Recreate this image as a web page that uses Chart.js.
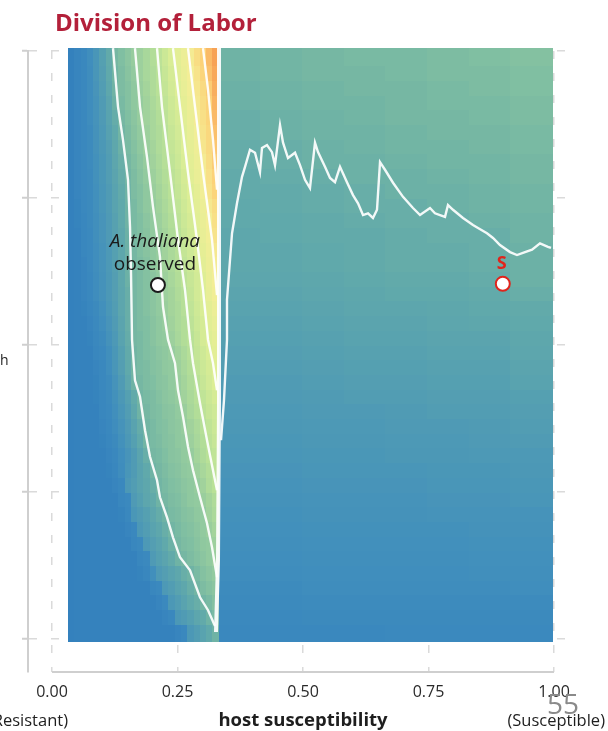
<!DOCTYPE html>
<html>
<head>
<meta charset="utf-8">
<title>Division of Labor</title>
<script src="https://cdn.jsdelivr.net/npm/chart.js@4.4.1/dist/chart.umd.min.js"></script>
<style>
  html, body { margin: 0; padding: 0; background: #fff; }
  #wrap { width: 608px; height: 731px; }
</style>
</head>
<body>
<div id="wrap"><canvas id="labor_Chart" width="608" height="731"></canvas></div>
<script>
// axis ticks (host susceptibility on x, unlabeled parameter on y)
const tick_values = [0, 0.25, 0.5, 0.75, 1];

// left band of the surface: cell edges and values (0-100 on the colour scale)
const band_x = [0.033, 0.0455, 0.058, 0.0705, 0.083, 0.0955, 0.108, 0.1205, 0.133, 0.1455, 0.158, 0.1705, 0.183,
                0.1955, 0.208, 0.2205, 0.233, 0.2455, 0.258, 0.2705, 0.283, 0.2955, 0.308, 0.3205, 0.333];
const band_y = [-0.005, 0.025, 0.05, 0.075, 0.1, 0.125, 0.15, 0.175, 0.2, 0.225, 0.25, 0.275, 0.3, 0.325, 0.35,
                0.375, 0.4, 0.425, 0.45, 0.475, 0.5, 0.525, 0.55, 0.575, 0.6, 0.625, 0.65, 0.675, 0.7, 0.725,
                0.75, 0.775, 0.8, 0.825, 0.85, 0.875, 0.9, 0.925, 0.95, 0.975, 1.005];
const band_rows = [
  [3,4,4,4,4,4,4,4,4,4,4,4,4,4,4,4,4,6,8,22,26,30,34,39],
  [3,4,4,4,4,4,4,4,4,4,4,4,4,4,4,6,8,22,25,28,32,35,39,42],
  [3,4,4,4,4,4,4,4,4,4,4,4,4,4,6,9,22,26,30,34,37,40,42,45],
  [3,4,4,4,4,4,4,4,4,4,4,4,4,7,9,23,26,30,33,37,40,43,45,47],
  [3,4,4,4,4,4,4,4,4,4,4,5,7,14,24,27,30,33,37,39,42,45,47,49],
  [3,4,4,4,4,4,4,4,4,4,4,7,9,24,28,31,35,39,41,43,45,47,49,51],
  [3,4,4,4,4,4,4,4,4,4,7,9,23,27,30,34,38,41,43,44,46,48,49,52],
  [3,4,4,4,4,4,4,4,4,6,8,22,26,30,33,37,40,42,44,45,47,49,51,54],
  [3,4,4,4,4,4,4,4,5,8,21,25,28,32,36,39,42,43,45,46,48,49,53,56],
  [3,4,4,4,4,4,4,4,7,9,24,28,32,35,39,41,43,44,46,48,49,51,54,57],
  [3,4,4,4,4,4,4,6,8,22,26,30,33,37,40,42,44,45,47,48,50,53,57,60],
  [3,4,4,4,4,4,5,7,12,20,25,30,34,39,41,43,45,46,48,49,52,55,58,61],
  [3,4,4,4,4,4,6,8,13,19,25,31,37,41,42,44,46,47,49,50,54,57,60,62],
  [3,4,4,4,4,5,7,10,16,22,28,34,40,42,43,45,46,48,49,52,55,58,61,64],
  [3,4,4,4,4,6,8,12,18,24,30,36,40,42,44,45,47,48,50,53,56,59,62,65],
  [3,4,4,4,4,7,9,14,20,26,33,39,41,43,44,46,47,49,51,55,58,61,64,66],
  [3,4,4,4,5,7,10,16,22,28,35,40,42,43,45,47,48,50,53,56,59,62,65,68],
  [3,4,4,4,5,8,11,18,25,32,39,41,43,44,46,47,49,51,54,57,60,64,67,70],
  [3,4,4,4,6,8,13,20,27,34,40,42,43,45,46,48,49,52,55,58,62,65,68,71],
  [3,4,4,4,7,9,14,21,28,35,40,42,44,45,47,48,50,53,56,59,63,66,69,73],
  [3,4,4,5,8,11,17,23,30,36,41,42,44,46,48,49,52,55,58,60,64,68,71,74],
  [3,4,4,6,9,13,19,25,31,37,41,43,44,46,48,50,53,56,58,61,65,68,72,75],
  [3,4,5,7,10,15,21,26,32,37,41,43,45,47,49,51,54,56,59,62,66,69,73,77],
  [3,4,6,8,12,17,22,27,32,37,41,43,45,47,49,52,54,57,59,63,67,70,75,79],
  [3,4,6,8,12,17,22,27,33,38,41,43,45,47,49,52,55,58,61,64,67,71,76,80],
  [3,4,6,9,13,18,23,28,33,38,41,43,45,48,50,53,56,59,62,65,68,73,77,81],
  [3,4,7,9,13,18,23,28,33,38,41,44,46,48,50,53,56,59,63,66,69,74,78,82],
  [3,4,7,9,14,19,24,29,33,38,42,44,46,49,51,54,57,60,64,67,71,75,79,84],
  [3,5,7,10,14,19,24,29,34,39,42,44,47,49,52,55,58,61,65,68,72,76,80,85],
  [3,5,8,10,15,20,25,30,34,39,42,45,48,50,53,56,59,62,66,69,73,77,82,86],
  [3,6,8,10,15,20,25,30,35,39,43,45,48,51,54,57,60,63,67,70,74,79,84,89],
  [3,6,8,10,16,21,26,31,36,40,43,46,49,52,55,58,61,64,68,72,76,80,85,90],
  [3,6,8,11,16,21,26,32,37,41,44,47,50,53,56,59,62,65,69,73,77,81,86,91],
  [3,6,8,11,17,22,27,33,38,42,45,48,51,54,57,59,63,66,70,74,78,83,87,92],
  [3,6,8,11,17,23,29,34,40,43,46,49,52,55,57,60,64,67,71,75,79,84,88,93],
  [3,6,8,12,18,24,30,36,41,44,47,50,53,55,58,61,65,68,72,76,81,85,89,94],
  [3,6,8,12,18,25,31,38,42,45,48,50,53,56,59,62,66,69,74,78,82,86,90,95],
  [3,6,8,12,19,26,33,39,43,45,48,51,54,57,60,63,67,71,75,79,83,87,91,96],
  [3,6,8,12,20,27,34,40,43,46,49,52,55,57,60,64,68,72,76,80,84,89,93,97],
  [3,6,8,13,20,28,35,41,44,47,50,52,55,58,61,65,69,73,77,81,86,90,94,98]
];

// right-hand flank of the surface (susceptibility above 1/3), same rows as the band
const flank_x = [0.333, 0.416, 0.499, 0.582, 0.665, 0.748, 0.831, 0.914, 0.997];
const flank_y = band_y;
const flank_rows = [
  [8,8,8,8,9,9,9,9],
  [9,9,10,10,10,10,10,10],
  [10,10,11,11,11,11,11,11],
  [11,11,12,12,12,12,12,13],
  [12,12,13,13,13,13,14,14],
  [13,13,14,14,14,14,15,15],
  [14,14,15,15,15,15,16,16],
  [15,15,16,16,16,16,17,17],
  [16,16,17,17,17,18,18,18],
  [17,17,18,18,18,19,19,20],
  [18,18,19,19,19,20,20,21],
  [19,19,20,20,20,21,21,22],
  [20,20,21,21,22,22,23,23],
  [21,21,22,22,23,23,24,25],
  [22,22,23,23,24,24,25,26],
  [23,23,24,24,25,26,26,27],
  [24,24,25,26,26,27,27,28],
  [25,25,26,27,27,28,28,30],
  [26,26,27,28,28,29,29,31],
  [27,27,28,29,29,30,30,32],
  [28,28,29,30,30,31,31,33],
  [29,29,30,31,31,32,33,34],
  [30,30,31,32,32,33,34,35],
  [31,31,32,33,34,34,35,37],
  [32,32,33,34,35,35,36,38],
  [33,33,34,35,36,36,37,38],
  [33,33,34,35,36,36,37,38],
  [33,34,35,35,36,37,37,39],
  [34,34,35,36,37,37,38,39],
  [34,35,36,37,37,38,39,40],
  [35,35,36,37,38,38,39,40],
  [35,36,37,38,38,39,40,41],
  [36,37,38,38,39,40,40,41],
  [36,37,38,39,40,40,41,42],
  [37,38,39,39,40,41,41,42],
  [37,38,39,40,41,41,42,43],
  [38,39,40,40,41,42,42,43],
  [38,39,40,41,41,42,43,44],
  [39,40,41,41,42,43,43,44],
  [39,40,41,42,42,43,44,45]
];

// contour lines of the band, outermost first
const contour_a = [[0.1215,1.005],[0.1315,0.905],[0.1414,0.849],[0.1514,0.781],[0.1554,0.701],[0.1574,0.622],
  [0.1594,0.509],[0.1653,0.440],[0.1753,0.412],[0.1853,0.355],[0.1952,0.310],[0.2092,0.270],[0.2151,0.241],
  [0.2291,0.207],[0.2410,0.173],[0.2550,0.139],[0.2749,0.117],[0.2948,0.071],[0.3108,0.049],[0.3247,0.022]];
const contour_b = [[0.1653,1.005],[0.1753,0.905],[0.1892,0.820],[0.2012,0.735],[0.2151,0.650],[0.2211,0.565],
  [0.2311,0.509],[0.2450,0.469],[0.2510,0.423],[0.2610,0.378],[0.2709,0.327],[0.2809,0.287],[0.2948,0.241],
  [0.3088,0.197],[0.3187,0.156],[0.3287,0.105]];
const contour_c = [[0.2092,1.005],[0.2191,0.905],[0.2351,0.793],[0.2510,0.679],[0.2649,0.594],[0.2749,0.509],
  [0.2809,0.469],[0.2948,0.401],[0.3088,0.338],[0.3207,0.287],[0.3287,0.253]];
const contour_d = [[0.2410,1.005],[0.2550,0.905],[0.2709,0.793],[0.2888,0.679],[0.3008,0.594],[0.3108,0.509],
  [0.3207,0.469],[0.3287,0.423]];
const contour_e = [[0.2709,1.005],[0.2849,0.905],[0.3008,0.793],[0.3187,0.679],[0.3287,0.585]];
const contour_f = [[0.3008,1.005],[0.3108,0.934],[0.3207,0.849],[0.3287,0.764]];
const edge_line = [[0.3327,1.005],[0.3327,0.406],[0.3307,0.134],[0.3267,0.012]];
// contour on the flank
const flank_contour = [[0.3367,0.338],[0.3426,0.406],[0.3486,0.509],[0.3486,0.577],[0.3586,0.690],[0.3685,0.741],
  [0.3785,0.786],[0.3845,0.803],[0.3944,0.832],[0.4044,0.827],[0.4143,0.794],[0.4183,0.835],[0.4283,0.840],
  [0.4382,0.828],[0.4442,0.806],[0.4542,0.874],[0.4602,0.844],[0.4701,0.818],[0.4841,0.827],[0.4940,0.806],
  [0.5040,0.781],[0.5139,0.767],[0.5239,0.844],[0.5299,0.828],[0.5438,0.803],[0.5538,0.784],[0.5637,0.777],
  [0.5737,0.803],[0.5876,0.777],[0.5996,0.755],[0.6096,0.741],[0.6195,0.721],[0.6295,0.724],[0.6394,0.716],
  [0.6474,0.730],[0.6534,0.811],[0.6633,0.798],[0.6793,0.776],[0.6992,0.752],[0.7191,0.733],[0.7331,0.721],
  [0.7530,0.733],[0.7629,0.724],[0.7729,0.721],[0.7829,0.718],[0.7888,0.738],[0.7988,0.730],[0.8187,0.716],
  [0.8386,0.704],[0.8486,0.699],[0.8665,0.690],[0.8785,0.682],[0.8924,0.670],[0.9124,0.658],[0.9263,0.653],
  [0.9422,0.658],[0.9562,0.662],[0.9721,0.673],[0.9880,0.667],[0.9940,0.665]];

// marked hosts
const observed_point = [0.211, 0.602];
const s_point = [0.898, 0.604];

const heat_stops = [
  [0, [48,124,188]], [8, [58,136,190]], [15, [66,144,188]], [25, [80,155,180]],
  [35, [98,170,170]], [40, [114,181,164]], [45, [132,193,161]], [50, [150,204,158]],
  [60, [185,225,151]], [70, [220,238,149]], [80, [243,238,150]], [90, [252,210,120]],
  [100, [246,150,76]]
];

function heat_color(v) {
  for (let i = 1; i < heat_stops.length; i++) {
    const [v1, c1] = heat_stops[i];
    if (v <= v1) {
      const [v0, c0] = heat_stops[i - 1];
      const t = (v - v0) / (v1 - v0);
      const c = c0.map((ch, n) => Math.round(ch + (c1[n] - ch) * t));
      return `rgb(${c[0]},${c[1]},${c[2]})`;
    }
  }
  return 'rgb(246,150,76)';
}

function paint_cells(ctx, xs, ys, rows, x, y) {
  rows.forEach((row, j) => {
    const top = Math.floor(y.getPixelForValue(ys[j + 1]));
    const bottom = Math.ceil(y.getPixelForValue(ys[j]));
    row.forEach((v, k) => {
      const left = Math.floor(x.getPixelForValue(xs[k]));
      const right = Math.ceil(x.getPixelForValue(xs[k + 1]));
      ctx.fillStyle = heat_color(v);
      ctx.fillRect(left, top, right - left, bottom - top);
    });
  });
}

// surface goes under the contour lines but over the grid
const surface_plugin = {
  id: 'surface',
  beforeDatasetsDraw(chart) {
    const {ctx, scales: {x, y}} = chart;
    ctx.save();
    paint_cells(ctx, band_x, band_y, band_rows, x, y);
    paint_cells(ctx, flank_x, flank_y, flank_rows, x, y);
    ctx.restore();
  }
};

const text_plugin = {
  id: 'slide_text',
  afterDraw(chart) {
    const {ctx, chartArea, scales: {x}} = chart;
    ctx.save();
    // x axis line only over the 0..1 range
    ctx.strokeStyle = '#cfcfcf';
    ctx.lineWidth = 2;
    ctx.beginPath();
    ctx.moveTo(x.getPixelForValue(0), chartArea.bottom);
    ctx.lineTo(x.getPixelForValue(1), chartArea.bottom);
    ctx.stroke();

    ctx.textBaseline = 'alphabetic';
    ctx.fillStyle = '#b3203a';
    ctx.font = 'bold 24px "Open Sans", sans-serif';
    ctx.textAlign = 'left';
    ctx.fillText('Division of Labor', 55, 31);

    ctx.fillStyle = '#1e1e1e';
    ctx.font = 'bold 18.5px "Open Sans", sans-serif';
    ctx.textAlign = 'center';
    ctx.fillText('host susceptibility', 303, 726);

    ctx.font = '16.5px "Open Sans", sans-serif';
    ctx.textAlign = 'right';
    ctx.fillText('(Resistant)', 68, 726);
    ctx.fillText('(Susceptible)', 605, 726);
    ctx.textAlign = 'left';
    ctx.font = '14px "Open Sans", sans-serif';
    ctx.fillText('h', 0, 365);

    ctx.fillStyle = '#8a8a8a';
    ctx.font = '28px "Open Sans", sans-serif';
    ctx.textAlign = 'center';
    ctx.fillText('55', 563, 714);

    // point labels
    const a = chart.getDatasetMeta(0).data[0];
    const s = chart.getDatasetMeta(1).data[0];
    ctx.fillStyle = '#1a1a1a';
    ctx.font = 'italic 19px "Open Sans", sans-serif';
    ctx.fillText('A. thaliana', a.x - 3, a.y - 38);
    ctx.font = '19px "Open Sans", sans-serif';
    ctx.fillText('observed', a.x - 3, a.y - 15);
    ctx.fillStyle = '#e0241c';
    ctx.font = 'bold 18px "Open Sans", sans-serif';
    ctx.fillText('S', s.x - 1, s.y - 15);
    ctx.restore();
  }
};

function contour_set(points, width) {
  return {
    data: points.map(p => ({x: p[0], y: p[1]})),
    showLine: true,
    borderColor: 'rgba(255,255,255,0.92)',
    borderWidth: width,
    pointRadius: 0,
    tension: 0,
    clip: false
  };
}

const chart_canvas = document.querySelector('#labor_Chart');
const labor_chart = new Chart(chart_canvas.getContext('2d'), {
  type: 'scatter',
  data: {
    datasets: [
      {data: [{x: observed_point[0], y: observed_point[1]}], pointRadius: 7, pointBackgroundColor: '#ffffff',
       pointBorderColor: '#1b1b1b', pointBorderWidth: 2, clip: false},
      {data: [{x: s_point[0], y: s_point[1]}], pointRadius: 7, pointBackgroundColor: '#ffffff',
       pointBorderColor: '#e0241c', pointBorderWidth: 2, clip: false},
      contour_set(flank_contour, 2.4),
      contour_set(edge_line, 4),
      contour_set(contour_a, 2.4),
      contour_set(contour_b, 2.4),
      contour_set(contour_c, 2.4),
      contour_set(contour_d, 2.4),
      contour_set(contour_e, 2.4),
      contour_set(contour_f, 2.4)
    ]
  },
  options: {
    responsive: false,
    devicePixelRatio: 1,
    animation: false,
    events: [],
    layout: {padding: {left: 0, right: 43, top: 51, bottom: 0}},
    plugins: {legend: {display: false}, tooltip: {enabled: false}, title: {display: false}},
    scales: {
      x: {
        type: 'linear',
        min: -0.0478,
        max: 1.0219,
        afterBuildTicks: s => { s.ticks = tick_values.map(v => ({value: v})); },
        afterFit: s => { s.height = 59; },
        ticks: {
          callback: v => Number(v).toFixed(2),
          font: {family: '"Open Sans", sans-serif', size: 16},
          color: '#2a2a2a',
          padding: 11,
          maxRotation: 0
        },
        grid: {color: '#dadada', lineWidth: 1.5, drawTicks: false},
        border: {display: false, dash: [8, 14]}
      },
      y: {
        type: 'linear',
        min: -0.0561,
        max: 1,
        afterBuildTicks: s => { s.ticks = tick_values.map(v => ({value: v})); },
        afterFit: s => { s.width = 28; },
        ticks: {display: false},
        grid: {color: '#dadada', lineWidth: 1.5, tickLength: 6, tickColor: '#cfcfcf', tickWidth: 2, tickBorderDash: []},
        border: {display: true, color: '#cfcfcf', width: 2, dash: [8, 14]}
      }
    }
  },
  plugins: [surface_plugin, text_plugin]
});
</script>
</body>
</html>
